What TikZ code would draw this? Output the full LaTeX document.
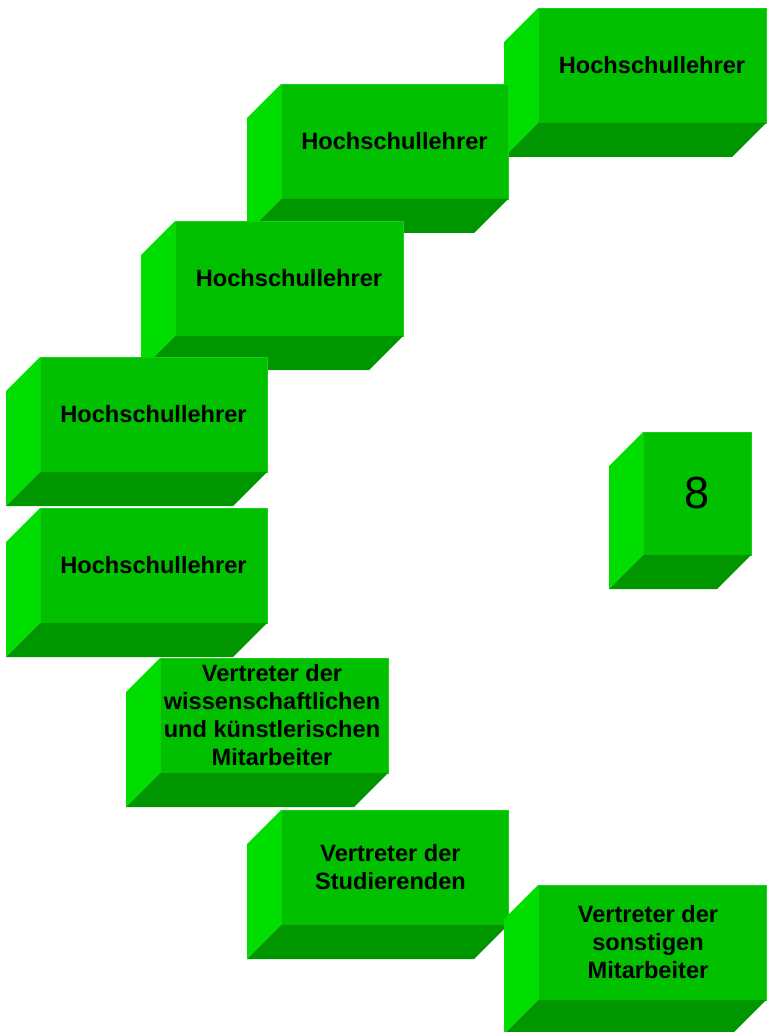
\documentclass[tikz,border=0pt]{standalone}
\usepackage{fontspec}
\setmainfont{Liberation Sans}
\usetikzlibrary{calc}
\definecolor{frontc}{RGB}{0,192,0}
\definecolor{leftc}{RGB}{0,221,0}
\definecolor{bottomc}{RGB}{0,150,0}
\definecolor{edgec}{RGB}{24,206,24}
\tikzset{
  frontface/.style={fill=frontc, draw=edgec, line width=0.8pt, inner sep=0pt, outer sep=0pt,
    align=center, text=black, font=\bfseries\fontsize{23.6}{28}\selectfont},
  leftface/.style={fill=leftc},
  bottomface/.style={fill=bottomc}
}
% name, x, y, w, h, text
\newcommand\greenbox[6]{%
  \node[frontface, minimum width=#4pt, minimum height=#5pt, anchor=north west] (#1) at (#2,#3) {#6};
  \fill[leftface] (#1.north west) -- ++(-34,34) -- ($(#1.south west)+(-34,34)$) -- (#1.south west) -- cycle;
  \fill[bottomface] (#1.south west) -- (#1.south east) -- ++(-34,34) -- ($(#1.south west)+(-34,34)$) -- cycle;
}
\begin{document}
\begin{tikzpicture}[x=1pt,y=-1pt]
\useasboundingbox (0,0) rectangle (766,1032);
\greenbox{a}{538}{8}{228}{115}{Hochschullehrer}
\greenbox{b}{281}{84}{227}{115}{Hochschullehrer}
\greenbox{c}{175}{221}{228}{115}{Hochschullehrer}
\greenbox{d}{40}{357}{227}{115}{Hochschullehrer}
\greenbox{e}{40}{508}{227}{115}{Hochschullehrer}
\greenbox{f}{160}{658}{228}{115}{\hspace*{-4pt}Vertreter der\\\hspace*{-4pt}wissenschaftlichen\\\hspace*{-4pt}und künstlerischen\\\hspace*{-4pt}Mitarbeiter}
\greenbox{g}{281}{810}{227}{115}{\hspace*{-8pt}Vertreter der\\\hspace*{-8pt}Studierenden}
\greenbox{h}{538}{885}{228}{115}{\hspace*{-8pt}Vertreter der\\\hspace*{-8pt}sonstigen\\\hspace*{-8pt}Mitarbeiter}
\greenbox{n}{643}{432}{108}{123}{\mdseries\fontsize{45}{50}\selectfont 8}
\end{tikzpicture}
\end{document}
